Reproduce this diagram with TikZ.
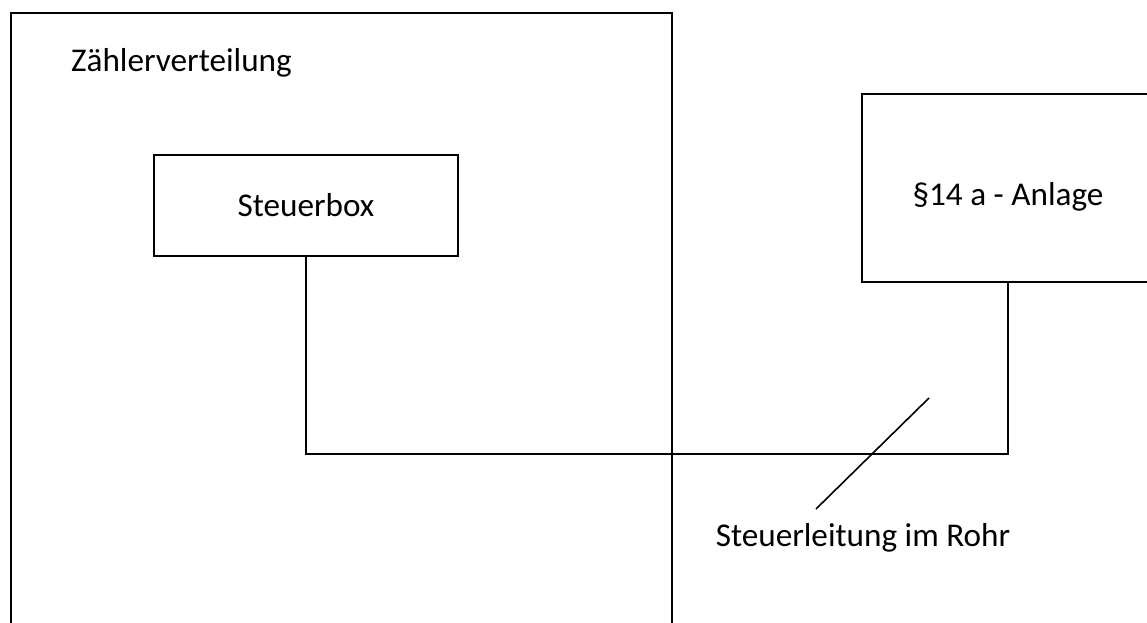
\documentclass[tikz,border=0pt]{standalone}
\usepackage{fontspec}
\setmainfont{Carlito}
\begin{document}
\begin{tikzpicture}[x=0.75pt,y=-0.75pt,
  every node/.style={font=\fontsize{24.9}{29}\selectfont, inner sep=0pt},
  line/.style={draw=black, line width=1.5pt},
  boxstyle/.style={line, rectangle, fill=none}]
\useasboundingbox (0,0) rectangle (1147,623);
\clip (0,0) rectangle (1147,623);
% container
\node[boxstyle, anchor=north west, minimum width=495.75pt, minimum height=516pt] (zv) at (10,12) {};
\node[anchor=base] (zvlabel) at (181.5,72) {Zählerverteilung};
% boxes
\node[boxstyle, minimum width=228pt, minimum height=75.75pt, text height=17pt, text depth=0pt] (steuer) at (306,205.5) {Steuerbox};
\node[boxstyle, minimum width=219pt, minimum height=141pt, text height=27pt, text depth=0pt] (anlage) at (1008,188) {§14 a - Anlage};
% cable
\coordinate (bend) at (306,454);
\draw[line] (steuer.south) -- (bend) -| (anlage.south);
% label
\node[anchor=base] (lbl) at (863,547) {Steuerleitung im Rohr};
\coordinate (p1) at (816,509);
\coordinate (p2) at (929,398);
\draw[line, line width=1.2pt] (p1) -- (p2);
\end{tikzpicture}
\end{document}
